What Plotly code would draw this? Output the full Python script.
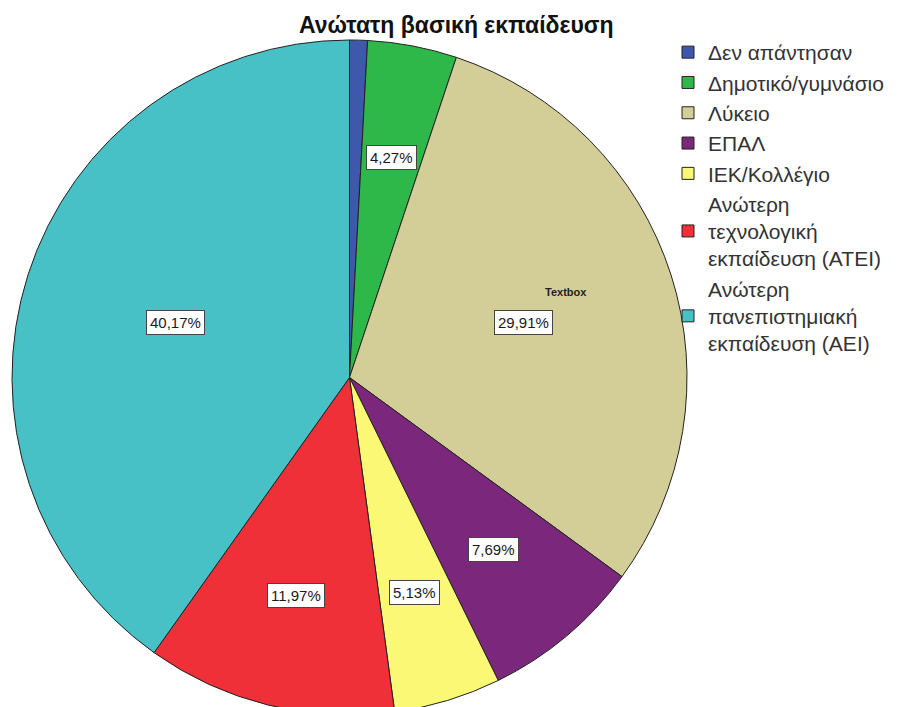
import numpy as np
import plotly.graph_objects as go

# education categories and counts (n = 117)
labels = ["Δεν απάντησαν", "Δημοτικό/γυμνάσιο", "Λύκειο", "ΕΠΑΛ", "ΙΕΚ/Κολλέγιο",
          "Ανώτερη<br>τεχνολογική<br>εκπαίδευση (ΑΤΕΙ)",
          "Ανώτερη<br>πανεπιστημιακή<br>εκπαίδευση (ΑΕΙ)"]
counts = [1, 5, 35, 9, 6, 14, 47]
colors = ["#3e58ac", "#2fb84a", "#d3ce97", "#7b287c", "#fbf876", "#ef3038", "#48c1c6"]
title = "Ανώτατη βασική εκπαίδευση"

W, H = 901, 707
OFF = 8  # default body margin of the html page


def px2paper(x, y):
    # screen pixel -> paper coords
    return (x - OFF) / W, 1 - (y - OFF) / H


# circle: left 12, right 687, top 40 on screen
dom_x = [(12 - OFF) / W, (687 - OFF) / W]
dom_y = [0, 1 - (40 - OFF) / H]

fig = go.Figure(go.Pie(
    labels=labels, values=counts, sort=False, direction="clockwise", rotation=0,
    marker=dict(colors=colors, line=dict(color="#222222", width=1)),
    textinfo="none", hoverinfo="label+percent",
    domain=dict(x=dom_x, y=dom_y),
))

# percent labels in white boxes, placed at each slice's mid angle
vals = np.array(counts, dtype=float)
pct = vals / vals.sum() * 100
mids = (np.cumsum(pct) - pct / 2) / 100 * 2 * np.pi
cx = (dom_x[0] + dom_x[1]) / 2 * W + OFF
cy = (1 - (dom_y[0] + dom_y[1]) / 2) * H + OFF
R = min((dom_x[1] - dom_x[0]) * W, (dom_y[1] - dom_y[0]) * H) / 2
annotations = []
for p, a in zip(pct, mids):
    if p < 2:
        continue
    rr = R * (0.54 if p > 25 else 0.665)
    ax, ay = px2paper(cx + rr * np.sin(a), cy - rr * np.cos(a))
    annotations.append(dict(
        x=ax, y=ay, xref="paper", yref="paper", showarrow=False,
        xanchor="center", yanchor="middle",
        text=("%.2f%%" % p).replace(".", ","),
        font=dict(family="Liberation Sans", size=15, color="#1a1a1a"),
        bgcolor="white", bordercolor="#444444", borderwidth=1, borderpad=3,
    ))

tx, ty = px2paper(566, 292)
annotations.append(dict(
    x=tx, y=ty, xref="paper", yref="paper", showarrow=False,
    xanchor="center", yanchor="middle",
    text="<b>Textbox</b>", font=dict(family="Liberation Sans", size=11, color="#222222"),
))
tx, ty = px2paper(456, 25)
annotations.append(dict(
    x=tx, y=ty, xref="paper", yref="paper", showarrow=False,
    xanchor="center", yanchor="middle",
    text="<b>" + title + "</b>", font=dict(family="Liberation Sans", size=23, color="#111111"),
))

lx, ly = px2paper(668, 32)
fig.update_layout(
    width=W, height=H, margin=dict(l=0, r=0, t=0, b=0),
    paper_bgcolor="white", plot_bgcolor="white",
    annotations=annotations,
    legend=dict(x=lx, y=ly, xanchor="left", yanchor="top",
                bgcolor="rgba(0,0,0,0)",
                font=dict(family="Liberation Sans", size=21, color="#333333"),
                tracegroupgap=0, itemwidth=30),
)

fig.write_html("out.html")
